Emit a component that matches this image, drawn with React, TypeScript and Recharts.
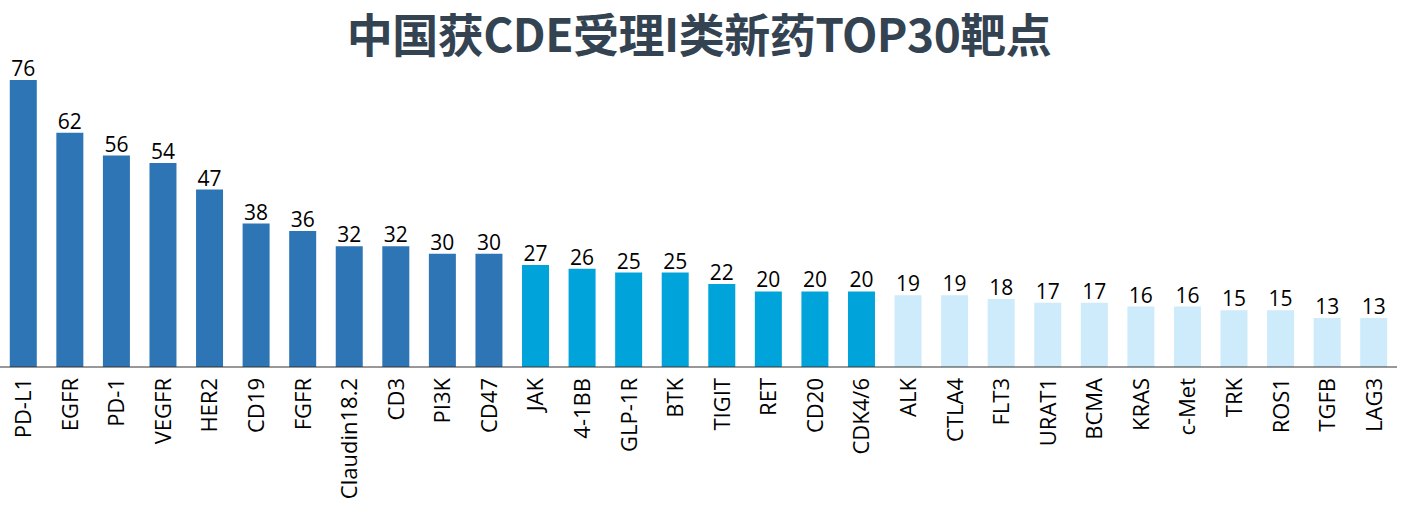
import React from "react";
import { BarChart, Bar, XAxis, YAxis, Cell, LabelList } from "recharts";

const targets = [
  "PD-L1", "EGFR", "PD-1", "VEGFR", "HER2", "CD19", "FGFR", "Claudin18.2", "CD3", "PI3K",
  "CD47", "JAK", "4-1BB", "GLP-1R", "BTK", "TIGIT", "RET", "CD20", "CDK4/6", "ALK",
  "CTLA4", "FLT3", "URAT1", "BCMA", "KRAS", "c-Met", "TRK", "ROS1", "TGFB", "LAG3",
];
const counts = [
  76, 62, 56, 54, 47, 38, 36, 32, 32, 30,
  30, 27, 26, 25, 25, 22, 20, 20, 20, 19,
  19, 18, 17, 17, 16, 16, 15, 15, 13, 13,
];
// tier per bar: 0 = top group, 1 = middle, 2 = tail
const tiers = [
  0, 0, 0, 0, 0, 0, 0, 0, 0, 0,
  0, 1, 1, 1, 1, 1, 1, 1, 1, 2,
  2, 2, 2, 2, 2, 2, 2, 2, 2, 2,
];
const tierColors = ["#2E75B6", "#00A3DA", "#CDEBFB"];

const data = targets.map((name, i) => ({ name, value: counts[i], tier: tiers[i] }));

const FONT = "'Open Sans', 'Noto Sans', sans-serif";

function RotatedTick(props: any) {
  const { x, y, payload } = props;
  return (
    <text
      x={0}
      y={0}
      dy="0.36em"
      transform={`translate(${x},${y + 3}) rotate(-90)`}
      textAnchor="end"
      fontSize={22}
      fontFamily={FONT}
      fill="#000"
    >
      {payload.value}
    </text>
  );
}

export default function App() {
  return (
    <div style={{ position: "absolute", left: 0, top: 0, width: 1423, height: 505, background: "#fff", overflow: "hidden" }}>
      <div
        style={{
          position: "absolute",
          left: 0,
          width: 1398,
          top: 4,
          textAlign: "center",
          fontFamily: "'Noto Sans CJK SC', 'Noto Sans', sans-serif",
          fontWeight: 700,
          fontSize: 46,
          color: "#344352",
          lineHeight: "56px",
          letterSpacing: -0.5,
        }}
      >
        中国获CDE受理I类新药TOP30靶点
      </div>
      <BarChart
        width={1423}
        height={505}
        data={data}
        margin={{ top: 80, right: 26, bottom: 0, left: 0 }}
        barCategoryGap="21%"
      >
        <XAxis
          dataKey="name"
          interval={0}
          height={138}
          tickLine={false}
          axisLine={{ stroke: "#333", strokeWidth: 1 }}
          tick={<RotatedTick />}
        />
        <YAxis hide domain={[0, 76]} />
        <Bar dataKey="value" isAnimationActive={false}>
          {data.map((d, i) => (
            <Cell key={i} fill={tierColors[d.tier]} />
          ))}
          <LabelList
            dataKey="value"
            position="top"
            offset={4}
            fontSize={21}
            fontFamily={FONT}
            fill="#000"
          />
        </Bar>
      </BarChart>
    </div>
  );
}
